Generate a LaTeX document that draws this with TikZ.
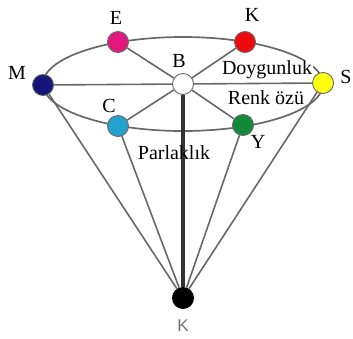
\documentclass[tikz,border=0pt]{standalone}
\usepackage{fontspec}
\setmainfont{Liberation Serif}
\newfontfamily\labsans{Liberation Sans}
\definecolor{lineg}{HTML}{686868}
\definecolor{cE}{HTML}{E3187F}
\definecolor{cK}{HTML}{EC0A0F}
\definecolor{cM}{HTML}{14147A}
\definecolor{cS}{HTML}{FFFF10}
\definecolor{cC}{HTML}{22A2CC}
\definecolor{cY}{HTML}{138A3A}
\begin{document}
\begin{tikzpicture}[x=1pt,y=-1pt,
  dot/.style={circle,draw=lineg,line width=0.9pt,minimum size=21pt,inner sep=0pt},
  conn/.style={draw=lineg,line width=1.6pt},
  lab/.style={font=\fontsize{20}{22}\selectfont,inner sep=0pt}]
\useasboundingbox (0,0) rectangle (353,338);
\draw[lineg,line width=1.7pt] (183,84) ellipse [x radius=140,y radius=47];
\node[dot,fill=cE] (E) at (118,42) {};
\node[dot,fill=cK] (K) at (245,42) {};
\node[dot,fill=cM] (M) at (43,85) {};
\node[dot,fill=cS] (S) at (323,83) {};
\node[dot,fill=white] (B) at (183,84) {};
\node[dot,fill=cC] (C) at (118,126) {};
\node[dot,fill=cY] (Y) at (243,125) {};
\node[dot,fill=black,draw=black] (A) at (183,298) {};
\draw[conn] (B) -- (E);
\draw[conn] (B) -- (K);
\draw[conn] (B) -- (C);
\draw[conn] (B) -- (Y);
\draw[conn] (M) -- (B);
\draw[conn] (B) -- (S);
\draw[conn] (M) -- (A);
\draw[conn] (C) -- (A);
\draw[conn] (Y) -- (A);
\draw[conn] (S) -- (A);
\draw[draw=black!80,line width=3.2pt] (B) -- (A);
\node[lab] (lE) at (116,18) {E};
\node[lab] (lK) at (252,15) {K};
\node[lab] (lM) at (17,73) {M};
\node[lab] (lS) at (346,77) {S};
\node[lab] (lB) at (179,61) {B};
\node[lab] (lC) at (109,106) {C};
\node[lab] (lY) at (258,142) {Y};
\node[lab,fill=white,inner sep=0.5pt] (lD) at (267,70) {Doygunluk};
\node[lab] (lR) at (266,98) {Renk özü};
\node[lab] (lP) at (174,153) {Parlaklık};
\node[font=\labsans\fontsize{17}{19}\selectfont,text=black!55,inner sep=0pt] (lA) at (183,326) {K};
\end{tikzpicture}
\end{document}
